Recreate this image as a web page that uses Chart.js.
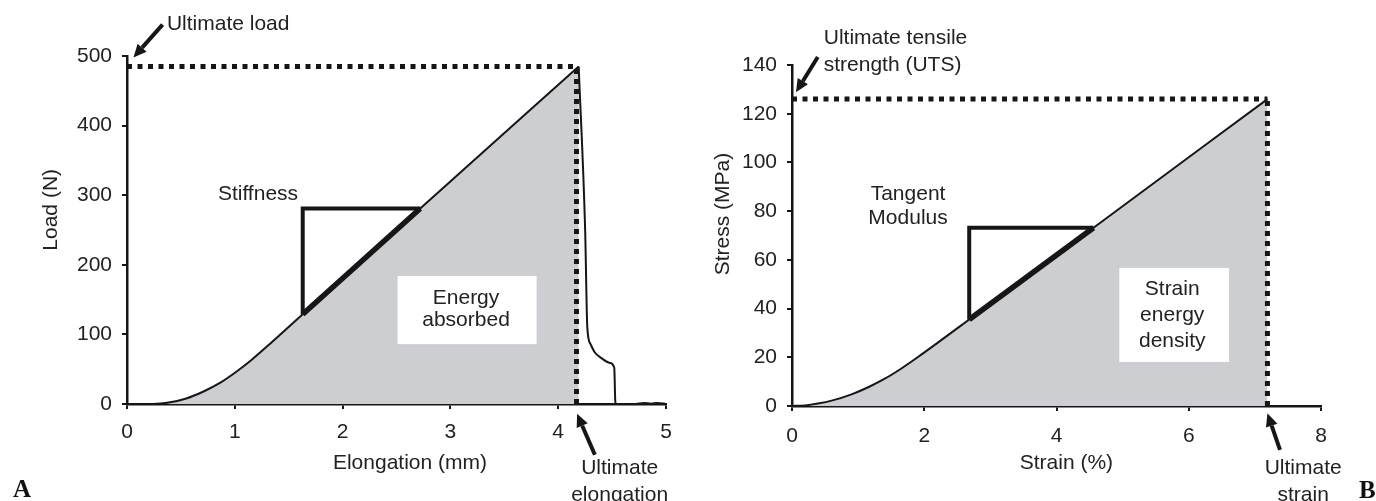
<!DOCTYPE html>
<html>
<head>
<meta charset="utf-8">
<script src="https://cdn.jsdelivr.net/npm/chart.js@4.4.1/dist/chart.umd.min.js"></script>
<style>
  html, body { margin: 0; padding: 0; background: #fff; }
  #wrap { position: relative; width: 1376px; height: 501px; overflow: hidden; }
  canvas { position: absolute; top: 0; }
  #chartA { left: 0; }
  #chartB { left: 688px; }
</style>
</head>
<body>
<div id="wrap">
  <canvas id="chartA" width="688" height="501"></canvas>
  <canvas id="chartB" width="688" height="501"></canvas>
</div>
<script>
// --- panel A: load vs elongation ---
const elongation = [0, 0.24, 0.4, 0.55, 0.71, 0.87, 1.02, 1.16, 1.33, 1.63, 2.72, 4.19];
const load = [0, 0, 2.5, 8, 18, 31, 47, 64, 87, 129, 281, 485];
const failElong = [4.19, 4.25, 4.27, 4.3, 4.34, 4.4, 4.48, 4.52, 4.53, 4.54, 4.7, 4.8, 4.86, 4.92, 5.0];
const failLoad = [485, 250, 110, 86, 74, 66, 59, 52, 3, 0, 0, 1.5, 0.5, 1.5, 0];
const ultimateLoad = 485;
const ultimateElong = 4.17;
const stiffX = [1.63, 1.63, 2.72];
const stiffY = [129, 281, 281];

// --- panel B: stress vs strain ---
const strain = [0, 0.2, 0.39, 0.6, 0.91, 1.16, 1.41, 1.66, 1.91, 2.2, 2.68, 4.56, 7.19];
const stress = [0, 0.25, 1.0, 2.2, 4.9, 7.8, 11.3, 15.5, 20.2, 25.9, 35.5, 73.2, 126];
const uts = 126;
const ultimateStrain = 7.19;
const tangentX = [2.68, 2.68, 4.56];
const tangentY = [35.5, 73.2, 73.2];

const INK = '#161616';
const TXT = '#222';
const FILL = '#cdced2';
const FONT = '"Liberation Sans", Arial, sans-serif';

Chart.defaults.font.family = FONT;
Chart.defaults.font.size = 21;
Chart.defaults.color = TXT;

function pts(xs, ys) {
    return xs.map((v, i) => ({ x: v, y: ys[i] }));
}

function line(data, extra) {
    return Object.assign({
        data: data,
        borderColor: INK,
        borderWidth: 2,
        pointRadius: 0,
        fill: false,
        tension: 0
    }, extra || {});
}

// helpers for the annotations, all placed in data units
function label(ctx, P, str, xv, yv, align) {
    const p = P(xv, yv);
    ctx.font = '21px ' + FONT;
    ctx.fillStyle = TXT;
    ctx.textAlign = align || 'center';
    ctx.textBaseline = 'middle';
    ctx.fillText(str, p[0], p[1]);
}

function arrow(ctx, P, x0, y0, x1, y1) {
    const a = P(x0, y0), b = P(x1, y1);
    const ang = Math.atan2(b[1] - a[1], b[0] - a[0]);
    const len = 13, half = 6;
    const bx = b[0] - Math.cos(ang) * len, by = b[1] - Math.sin(ang) * len;
    ctx.strokeStyle = INK;
    ctx.fillStyle = INK;
    ctx.lineWidth = 4;
    ctx.beginPath();
    ctx.moveTo(a[0], a[1]);
    ctx.lineTo(bx, by);
    ctx.stroke();
    ctx.beginPath();
    ctx.moveTo(b[0], b[1]);
    ctx.lineTo(bx + Math.sin(ang) * half, by - Math.cos(ang) * half);
    ctx.lineTo(bx - Math.sin(ang) * half, by + Math.cos(ang) * half);
    ctx.closePath();
    ctx.fill();
}

function whiteBox(ctx, P, x0, y0, x1, y1) {
    const a = P(x0, y0), b = P(x1, y1);
    ctx.fillStyle = '#fff';
    ctx.fillRect(a[0], a[1], b[0] - a[0], b[1] - a[1]);
}

function rotated(ctx, P, str, xv, yv) {
    const t = P(xv, yv);
    ctx.save();
    ctx.translate(t[0], t[1]);
    ctx.rotate(-Math.PI / 2);
    label(ctx, () => [0, 0], str, 0, 0);
    ctx.restore();
}

function panelLetter(ctx, P, str, xv, yv) {
    const p = P(xv, yv);
    ctx.font = 'bold 25px "Liberation Serif", "DejaVu Serif", serif';
    ctx.fillStyle = '#111';
    ctx.textAlign = 'center';
    ctx.textBaseline = 'middle';
    ctx.fillText(str, p[0], p[1]);
}

function notes(draw) {
    return {
        id: 'notes',
        afterDatasetsDraw(chart) {
            const sx = chart.scales.x, sy = chart.scales.y;
            const P = (a, b) => [sx.getPixelForValue(a), sy.getPixelForValue(b)];
            const ctx = chart.ctx;
            ctx.save();
            draw(ctx, P);
            ctx.restore();
        }
    };
}

function axes(xMax, xStep, yMax, yStep, yWidth, xHeight, tickPad) {
    const common = {
        type: 'linear',
        grid: { drawOnChartArea: false, drawTicks: true, tickLength: 5, color: INK, lineWidth: 2 },
        border: { display: true, color: INK, width: 2.5 }
    };
    return {
        x: Object.assign({}, common, {
            min: 0, max: xMax,
            ticks: { stepSize: xStep, padding: tickPad, color: TXT, maxRotation: 0 },
            afterFit: s => { s.height = xHeight; }
        }),
        y: Object.assign({}, common, {
            min: 0, max: yMax,
            ticks: { stepSize: yStep, padding: 10, color: TXT },
            afterFit: s => { s.width = yWidth; }
        })
    };
}

const baseOpts = {
    responsive: false,
    animation: false,
    events: [],
    plugins: { legend: { display: false }, tooltip: { enabled: false } }
};

// Panel A
new Chart(document.getElementById('chartA'), {
    type: 'line',
    data: {
        datasets: [
            line(pts([ultimateElong, ultimateElong], [0, ultimateLoad]), { borderWidth: 5, borderDash: [5, 5], order: 1 }),
            line(pts([0, ultimateElong], [ultimateLoad, ultimateLoad]), { borderWidth: 5, borderDash: [5, 5.5], order: 1 }),
            line(pts(stiffX, stiffY), { borderWidth: 4, order: 2 }),
            line(pts([stiffX[0], stiffX[2]], [stiffY[0], stiffY[2]]), { borderWidth: 5.5, order: 2 }),
            line(pts(failElong, failLoad), { cubicInterpolationMode: 'monotone', order: 3 }),
            line(pts(elongation, load), {
                cubicInterpolationMode: 'monotone',
                fill: 'origin',
                backgroundColor: FILL,
                order: 10
            })
        ]
    },
    options: Object.assign({}, baseOpts, {
        layout: { padding: { top: 56, right: 22, left: 0, bottom: 0 } },
        scales: axes(5, 1, 500, 100, 127, 97, 11)
    }),
    plugins: [notes((ctx, P) => {
        whiteBox(ctx, P, 2.51, 184, 3.80, 86);
        label(ctx, P, 'Energy', 3.145, 152);
        label(ctx, P, 'absorbed', 3.145, 121);
        label(ctx, P, 'Stiffness', 1.215, 302);
        arrow(ctx, P, 0.33, 545, 0.06, 498);
        label(ctx, P, 'Ultimate load', 0.37, 545, 'left');
        arrow(ctx, P, 4.34, -73, 4.175, -14);
        label(ctx, P, 'Ultimate', 4.57, -92);
        label(ctx, P, 'elongation', 4.57, -131);
        label(ctx, P, 'Elongation (mm)', 2.625, -85);
        rotated(ctx, P, 'Load (N)', -0.7, 279);
        panelLetter(ctx, P, 'A', -0.974, -125);
    })]
});

// Panel B
new Chart(document.getElementById('chartB'), {
    type: 'line',
    data: {
        datasets: [
            line(pts([ultimateStrain, ultimateStrain], [0, uts]), { borderWidth: 5, borderDash: [5, 5], order: 1 }),
            line(pts([0, ultimateStrain], [uts, uts]), { borderWidth: 5, borderDash: [5, 5.5], order: 1 }),
            line(pts(tangentX, tangentY), { borderWidth: 4, order: 2 }),
            line(pts([tangentX[0], tangentX[2]], [tangentY[0], tangentY[2]]), { borderWidth: 5.5, order: 2 }),
            line(pts(strain, stress), {
                cubicInterpolationMode: 'monotone',
                fill: 'origin',
                backgroundColor: FILL,
                order: 10
            })
        ]
    },
    options: Object.assign({}, baseOpts, {
        layout: { padding: { top: 65, right: 55, left: 0, bottom: 0 } },
        scales: axes(8, 2, 140, 20, 104, 95, 13)
    }),
    plugins: [notes((ctx, P) => {
        whiteBox(ctx, P, 4.95, 56.7, 6.61, 18.1);
        label(ctx, P, 'Strain', 5.75, 48);
        label(ctx, P, 'energy', 5.75, 37.4);
        label(ctx, P, 'density', 5.75, 26.7);
        label(ctx, P, 'Tangent', 1.755, 87);
        label(ctx, P, 'Modulus', 1.755, 77.2);
        arrow(ctx, P, 0.39, 143.3, 0.06, 128.8);
        label(ctx, P, 'Ultimate tensile', 0.48, 151, 'left');
        label(ctx, P, 'strength (UTS)', 0.48, 140, 'left');
        arrow(ctx, P, 7.38, -18, 7.19, -3);
        label(ctx, P, 'Ultimate', 7.73, -25.5);
        label(ctx, P, 'strain', 7.73, -36.5);
        label(ctx, P, 'Strain (%)', 4.15, -23.4);
        rotated(ctx, P, 'Stress (MPa)', -1.04, 78.8);
        panelLetter(ctx, P, 'B', 8.7, -35);
    })]
});
</script>
</body>
</html>
